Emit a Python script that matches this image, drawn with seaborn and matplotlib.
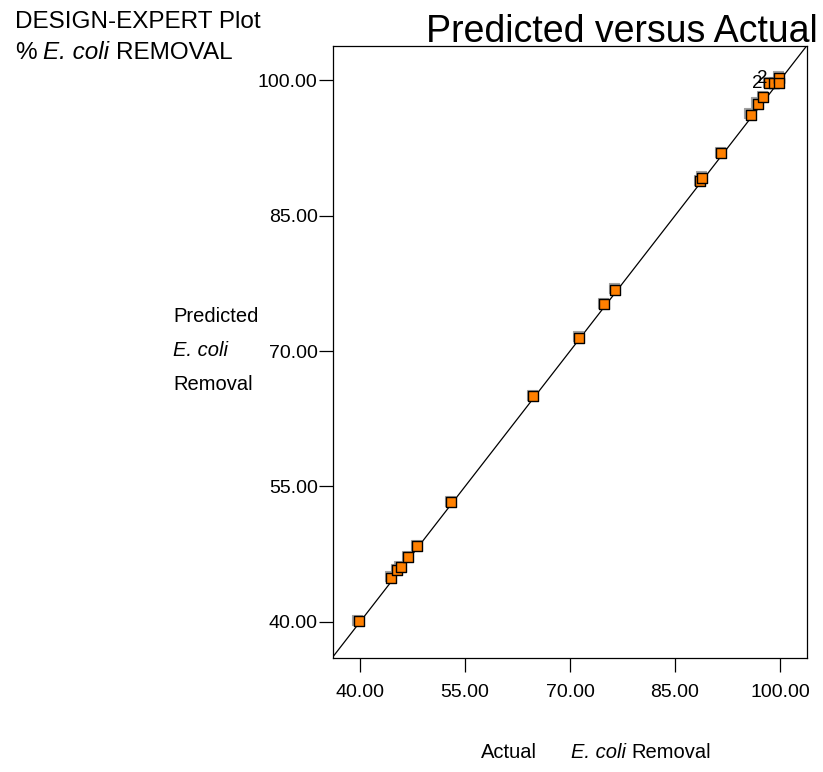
import matplotlib
matplotlib.use("Agg")
import matplotlib.pyplot as plt
import matplotlib.transforms as mtransforms
import seaborn as sns
import pandas as pd

# ---- data ----
actual = [39.8, 44.4, 45.3, 45.8, 46.9, 48.2, 53.0, 64.7, 71.3, 74.9, 76.5,
          88.6, 88.9, 91.6, 95.8, 96.8, 97.6, 98.5, 99.2, 99.9, 99.9]
predicted = [40.1, 44.9, 45.7, 46.1, 47.2, 48.4, 53.25, 65.0, 71.5, 75.2, 76.8,
             88.8, 89.2, 91.9, 96.2, 97.4, 98.1, 99.65, 99.65, 100.3, 99.65]
x_ticks = [40.0, 55.0, 70.0, 85.0, 100.0]
y_ticks = [40.0, 55.0, 70.0, 85.0, 100.0]
x_range = [36.14, 103.86]
y_range = [36.0, 103.8]
# replicate-count labels: (x, y, text)
rep_labels = [(98.5, 99.65, "2"), (99.2, 100.2, "2")]

df = pd.DataFrame({"Actual": actual, "Predicted": predicted})

sns.set_style("white")
plt.rcParams["font.family"] = ["Liberation Sans", "DejaVu Sans"]
plt.rcParams["text.color"] = "black"
plt.rcParams["xtick.color"] = "black"
plt.rcParams["ytick.color"] = "black"

fig = plt.figure(figsize=(8.23, 7.72), dpi=100)
ax = fig.add_axes([333/823, 1 - 658/772, (807-333)/823, (658-46)/772])

# 1:1 line
lo = min(x_range[0], y_range[0])
hi = max(x_range[1], y_range[1])
ax.plot([lo, hi], [lo, hi], color="black", lw=0.9, zorder=1)

# shadow
shadow = mtransforms.offset_copy(ax.transData, fig=fig, x=-1.3, y=1.3, units="dots")
ax.scatter(df["Actual"], df["Predicted"], marker="s", s=55, color="#a0a0a0",
           edgecolor="#a0a0a0", linewidth=0.8, transform=shadow, zorder=2)
sns.scatterplot(data=df, x="Actual", y="Predicted", marker="s", s=55,
                color="#FF8000", edgecolor="black", linewidth=1.0, ax=ax, zorder=3)

for x, y, t in rep_labels:
    ax.annotate(t, (x, y), xytext=(-8.6, 0), textcoords="offset points",
                ha="center", va="center", fontsize=13.5, color="black", zorder=4)

ax.set_xlim(x_range)
ax.set_ylim(y_range)
ax.set_xticks(x_ticks)
ax.set_yticks(y_ticks)
ax.set_xticklabels([f"{v:.2f}" for v in x_ticks], fontsize=14)
ax.set_yticklabels([f"{v:.2f}" for v in y_ticks], fontsize=14)
ax.tick_params(axis="both", direction="out", length=10, width=0.9, color="black",
               bottom=True, left=True, pad=1)
ax.tick_params(axis="x", pad=9)
ax.set_xlabel("")
ax.set_ylabel("")
for sp in ax.spines.values():
    sp.set_color("black")
    sp.set_linewidth(0.9)

# texts
fig.text(622/823, 1 - 32/772, "Predicted versus Actual", ha="center", va="center", fontsize=27)
fig.text(15/823, 1 - 28/772, "DESIGN-EXPERT Plot", ha="left", va="baseline", fontsize=17.5)
fig.text(15/823, 1 - 59/772, "%", ha="left", va="baseline", fontsize=17.5)
fig.text(43/823, 1 - 59/772, "E. coli", ha="left", va="baseline", fontsize=17.5, style="italic")
fig.text(116/823, 1 - 59/772, "REMOVAL", ha="left", va="baseline", fontsize=17.5)

fig.text(173/823, 1 - 316/772, "Predicted", ha="left", va="center", fontsize=14.5)
fig.text(173/823, 1 - 350/772, "E. coli", ha="left", va="center", fontsize=14.5, style="italic")
fig.text(173/823, 1 - 384/772, "Removal", ha="left", va="center", fontsize=14.5)

fig.text(481/823, 1 - 752/772, "Actual", ha="left", va="center", fontsize=14.5)
fig.text(571/823, 1 - 752/772, "E. coli", ha="left", va="center", fontsize=14.5, style="italic")
fig.text(631/823, 1 - 752/772, "Removal", ha="left", va="center", fontsize=14.5)

fig.savefig("out.png", dpi=100)
